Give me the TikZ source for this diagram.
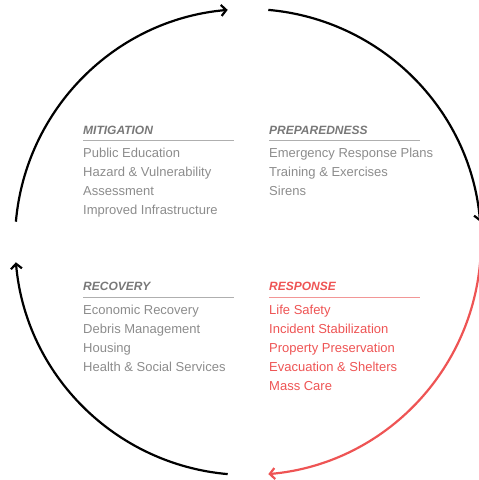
\documentclass[tikz,border=0pt]{standalone}
\usepackage{fontspec}
\setmainfont{Liberation Sans}
\usetikzlibrary{arrows.meta,calc}
\definecolor{itemgray}{RGB}{140,140,140}
\definecolor{headgray}{RGB}{120,120,120}
\definecolor{rulegray}{RGB}{175,175,175}
\definecolor{resred}{RGB}{238,84,84}
\definecolor{rulered}{RGB}{242,150,150}
\begin{document}
\begin{tikzpicture}[x=1pt,y=1pt,
  cyc/.style={line width=2.2pt,-{Straight Barb[length=5pt,width=11pt,line width=2.2pt]}},
  head/.style={anchor=base west,inner sep=0pt,font=\fontsize{12}{14}\selectfont\bfseries\itshape},
  item/.style={anchor=base west,inner sep=0pt,font=\fontsize{13}{15}\selectfont},
  rul/.style={line width=0.9pt}]
\useasboundingbox (0,0) rectangle (479,480);
\coordinate (c) at (248,238);
\def\R{233}
\coordinate (a1) at ($(c)+(175:\R)$);
\coordinate (a2) at ($(c)+(85:\R)$);
\coordinate (a3) at ($(c)+(-5:\R)$);
\coordinate (a4) at ($(c)+(-95:\R)$);
\draw[cyc] (a1) arc[start angle=175,end angle=95,radius=\R];
\draw[cyc] (a2) arc[start angle=85,end angle=5,radius=\R];
\draw[cyc,resred] (a3) arc[start angle=-5,end angle=-85,radius=\R];
\draw[cyc] (a4) arc[start angle=-95,end angle=-175,radius=\R];

% Mitigation
\node[head,headgray] (mh) at (83,345) {MITIGATION};
\coordinate (mr1) at (83,340); \coordinate (mr2) at (234,340);
\draw[rul,rulegray] (mr1) -- (mr2);
\node[item,itemgray] (m1) at (83,322) {Public Education};
\node[item,itemgray] (m2) at (83,303) {Hazard \& Vulnerability};
\node[item,itemgray] (m3) at (83,284) {Assessment};
\node[item,itemgray] (m4) at (83,265) {Improved Infrastructure};

% Preparedness
\node[head,headgray] (ph) at (269,345) {PREPAREDNESS};
\coordinate (pr1) at (269,340); \coordinate (pr2) at (420,340);
\draw[rul,rulegray] (pr1) -- (pr2);
\node[item,itemgray] (p1) at (269,322) {Emergency Response Plans};
\node[item,itemgray] (p2) at (269,303) {Training \& Exercises};
\node[item,itemgray] (p3) at (269,284) {Sirens};

% Recovery
\node[head,headgray] (rh) at (83,189) {RECOVERY};
\coordinate (rr1) at (83,183); \coordinate (rr2) at (234,183);
\draw[rul,rulegray] (rr1) -- (rr2);
\node[item,itemgray] (r1) at (83,165) {Economic Recovery};
\node[item,itemgray] (r2) at (83,146) {Debris Management};
\node[item,itemgray] (r3) at (83,127) {Housing};
\node[item,itemgray] (r4) at (83,108) {Health \& Social Services};

% Response
\node[head,resred] (sh) at (269,189) {RESPONSE};
\coordinate (sr1) at (269,183); \coordinate (sr2) at (420,183);
\draw[rul,rulered] (sr1) -- (sr2);
\node[item,resred] (s1) at (269,165) {Life Safety};
\node[item,resred] (s2) at (269,146) {Incident Stabilization};
\node[item,resred] (s3) at (269,127) {Property Preservation};
\node[item,resred] (s4) at (269,108) {Evacuation \& Shelters};
\node[item,resred] (s5) at (269,89) {Mass Care};
\end{tikzpicture}
\end{document}
